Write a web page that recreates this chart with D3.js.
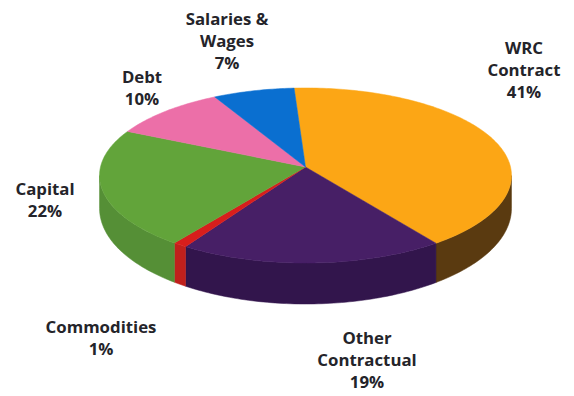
<!DOCTYPE html>
<html>
<head>
<meta charset="utf-8">
<script src="https://cdn.jsdelivr.net/npm/d3@7"></script>
<style>
html,body{margin:0;padding:0;background:#fff}
svg{display:block}
text{font-family:"Open Sans",sans-serif;font-weight:700;font-size:16.8px;fill:#24242a;text-anchor:middle}
</style>
</head>
<body>
<svg id="chart" width="574" height="396"></svg>
<script>
// Budget shares, clockwise from the top of the pie
const categories = ["WRC Contract", "Other Contractual", "Commodities", "Capital", "Debt", "Salaries & Wages"];
const shares = [41, 19, 1, 22, 10, 7];
const topColors = ["#fca615", "#471f66", "#d81e1c", "#62a43a", "#ec6fa8", "#0a6fd0"];
const wallColors = ["#5a3a10", "#32154c", "#c0201c", "#558f36", "#c05a8a", "#0a5aa8"];
const labelLines = [["WRC", "Contract", "41%"], ["Other", "Contractual", "19%"], ["Commodities", "1%"], ["Capital", "22%"], ["Debt", "10%"], ["Salaries &", "Wages", "7%"]];
const labelCenters = [[524, 49], [367, 339], [101, 328], [45, 190], [142, 78], [227, 20]];

// Tilted disc: a circle seen in perspective, so the near edge is larger
const cx = 305.5, cy = 167, radiusX = 205, radiusY = 86.7, perspective = 0.097;
const degrees = Math.PI / 180;
const startAngle = -3.5 * degrees;
const lineStep = 22;

function rim(angle) {
  const u = Math.sin(angle), v = -Math.cos(angle), w = 1 - perspective * v;
  return [cx + radiusX * u / w, cy + radiusY * v / w, v];
}
const wallDepth = v => 32 + 9 * Math.max(v, 0);
const samples = (a, b) => {
  const n = Math.max(2, Math.ceil((b - a) / degrees));
  return d3.range(n + 1).map(i => a + (b - a) * i / n);
};

const arcs = d3.pie().sort(null).startAngle(startAngle).endAngle(startAngle + 2 * Math.PI)(shares);
const line = d3.line().curve(d3.curveLinearClosed);
const svg = d3.select("#chart");

// Side wall, only where the rim faces the viewer
const wallFrom = 95.6 * degrees, wallTo = 264.4 * degrees;
svg.append("g").selectAll("path")
  .data(arcs.filter(d => d.endAngle > wallFrom && d.startAngle < wallTo))
  .join("path")
  .attr("fill", d => wallColors[d.index])
  .attr("stroke", d => wallColors[d.index])
  .attr("stroke-width", 0.5)
  .attr("d", d => {
    const rimPts = samples(Math.max(d.startAngle, wallFrom), Math.min(d.endAngle, wallTo)).map(rim);
    const upper = rimPts.map(p => [p[0], p[1]]);
    const lower = rimPts.map(p => [p[0], p[1] + wallDepth(p[2])]).reverse();
    return line(upper.concat(lower));
  });

// Top face
svg.append("g").selectAll("path")
  .data(arcs)
  .join("path")
  .attr("fill", d => topColors[d.index])
  .attr("stroke", d => topColors[d.index])
  .attr("stroke-width", 0.5)
  .attr("d", d => line([[cx, cy]].concat(samples(d.startAngle, d.endAngle).map(a => rim(a).slice(0, 2)))));

// Category labels
const labels = svg.append("g").selectAll("text")
  .data(categories.map((c, i) => i))
  .join("text")
  .attr("x", i => labelCenters[i][0])
  .attr("y", i => labelCenters[i][1]);
labels.selectAll("tspan")
  .data(i => labelLines[i].map(t => ({t, i})))
  .join("tspan")
  .attr("x", d => labelCenters[d.i][0])
  .attr("dy", (d, j) => j ? lineStep : 5)
  .text(d => d.t);
</script>
</body>
</html>
